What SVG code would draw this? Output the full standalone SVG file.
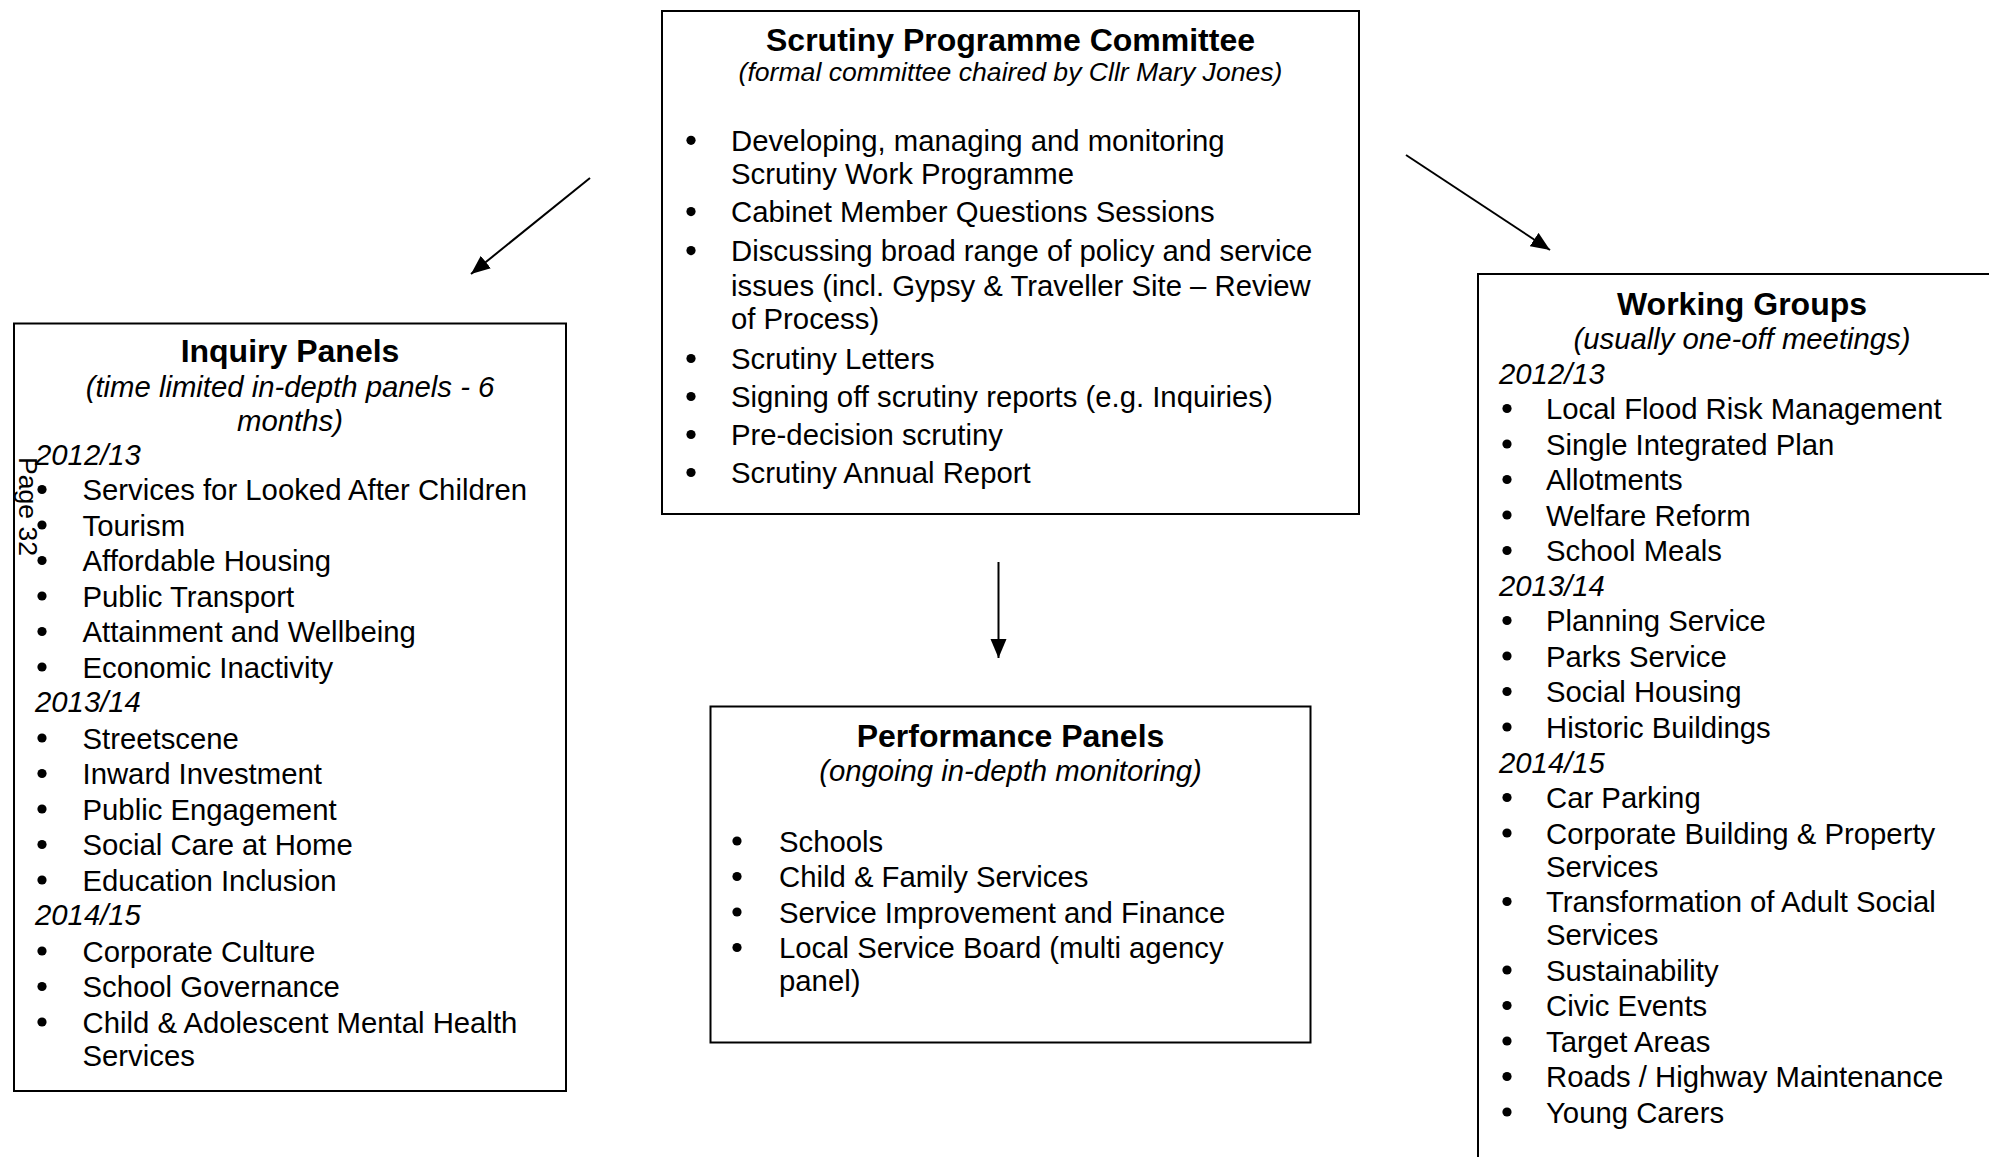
<svg xmlns="http://www.w3.org/2000/svg" width="1989" height="1157" viewBox="0 0 1989 1157">
  <style>
    .box { fill: none; stroke: #000; stroke-width: 2; }
    text { font-family: "Liberation Sans", Arial, sans-serif; fill: #000; }
    .h { font-size: 32px; font-weight: bold; text-anchor: middle; }
    .sub { font-size: 29.3px; font-style: italic; text-anchor: middle; }
    .sub-s { font-size: 26.6px; font-style: italic; text-anchor: middle; }
    .b { font-size: 29.3px; }
    .yr { font-size: 29.3px; font-style: italic; }
    .dot circle { fill: #000; }
    .pg { font-size: 26.6px; }
    .conn { stroke: #000; stroke-width: 2; fill: none; marker-end: url(#ah); }
  </style>
  <defs>
    <marker id="ah" markerUnits="userSpaceOnUse" markerWidth="21" markerHeight="17" refX="19" refY="8" orient="auto">
      <path d="M0,0 L19,8 L0,16 z" fill="#000"/>
    </marker>
  </defs>

  <rect width="1989" height="1157" fill="#fff"/>

  <!-- connectors -->
  <g id="connectors">
    <line class="conn" x1="590" y1="178" x2="471" y2="274"/>
    <line class="conn" x1="1406" y1="155" x2="1550" y2="250"/>
    <line class="conn" x1="998.5" y1="562" x2="998.5" y2="658"/>
  </g>

  <!-- Scrutiny Programme Committee -->
  <g id="node-committee">
    <rect class="box" x="662" y="11" width="697" height="503"/>
    <text class="h" x="1010.5" y="51">Scrutiny Programme Committee</text>
    <text class="sub-s" x="1010.5" y="81">(formal committee chaired by Cllr Mary Jones)</text>
    <g class="dot">
      <circle cx="691" cy="140.3" r="4.6"/>
      <circle cx="691" cy="211.6" r="4.6"/>
      <circle cx="691" cy="250.6" r="4.6"/>
      <circle cx="691" cy="358.5" r="4.6"/>
      <circle cx="691" cy="396.5" r="4.6"/>
      <circle cx="691" cy="434.5" r="4.6"/>
      <circle cx="691" cy="472.5" r="4.6"/>
    </g>
    <g class="b">
      <text x="731" y="150.8">Developing, managing and monitoring</text>
      <text x="731" y="184">Scrutiny Work Programme</text>
      <text x="731" y="222">Cabinet Member Questions Sessions</text>
      <text x="731" y="261">Discussing broad range of policy and service</text>
      <text x="731" y="295.5">issues (incl. Gypsy &amp; Traveller Site – Review</text>
      <text x="731" y="328.5">of Process)</text>
      <text x="731" y="369">Scrutiny Letters</text>
      <text x="731" y="407">Signing off scrutiny reports (e.g. Inquiries)</text>
      <text x="731" y="445">Pre-decision scrutiny</text>
      <text x="731" y="483">Scrutiny Annual Report</text>
    </g>
  </g>

  <!-- Inquiry Panels -->
  <g id="node-inquiry">
    <rect class="box" x="14" y="323.5" width="552" height="767.5"/>
    <text class="h" x="290" y="362">Inquiry Panels</text>
    <text class="sub" x="290" y="397">(time limited in-depth panels - 6</text>
    <text class="sub" x="290" y="430.5">months)</text>
    <text class="yr" x="35" y="464.5">2012/13</text>
    <text class="yr" x="35" y="712">2013/14</text>
    <text class="yr" x="35" y="925">2014/15</text>
    <g class="dot">
      <circle cx="42" cy="489.5" r="4.6"/>
      <circle cx="42" cy="525" r="4.6"/>
      <circle cx="42" cy="560.5" r="4.6"/>
      <circle cx="42" cy="596" r="4.6"/>
      <circle cx="42" cy="631.5" r="4.6"/>
      <circle cx="42" cy="667" r="4.6"/>
      <circle cx="42" cy="738" r="4.6"/>
      <circle cx="42" cy="773.5" r="4.6"/>
      <circle cx="42" cy="809" r="4.6"/>
      <circle cx="42" cy="844.5" r="4.6"/>
      <circle cx="42" cy="880" r="4.6"/>
      <circle cx="42" cy="951" r="4.6"/>
      <circle cx="42" cy="986.5" r="4.6"/>
      <circle cx="42" cy="1022" r="4.6"/>
    </g>
    <g class="b">
      <text x="82.5" y="500">Services for Looked After Children</text>
      <text x="82.5" y="535.5">Tourism</text>
      <text x="82.5" y="571">Affordable Housing</text>
      <text x="82.5" y="606.5">Public Transport</text>
      <text x="82.5" y="642">Attainment and Wellbeing</text>
      <text x="82.5" y="677.5">Economic Inactivity</text>
      <text x="82.5" y="748.5">Streetscene</text>
      <text x="82.5" y="784">Inward Investment</text>
      <text x="82.5" y="819.5">Public Engagement</text>
      <text x="82.5" y="855">Social Care at Home</text>
      <text x="82.5" y="890.5">Education Inclusion</text>
      <text x="82.5" y="961.5">Corporate Culture</text>
      <text x="82.5" y="997">School Governance</text>
      <text x="82.5" y="1032.5">Child &amp; Adolescent Mental Health</text>
      <text x="82.5" y="1065.5">Services</text>
    </g>
  </g>

  <!-- page number in the left margin -->
  <text class="pg" transform="translate(19,457) rotate(90)">Page 32</text>

  <!-- Performance Panels -->
  <g id="node-performance">
    <rect class="box" x="710.5" y="706.5" width="600" height="336"/>
    <text class="h" x="1010.5" y="747">Performance Panels</text>
    <text class="sub" x="1010.5" y="780.5">(ongoing in-depth monitoring)</text>
    <g class="dot">
      <circle cx="737" cy="841" r="4.6"/>
      <circle cx="737" cy="876.5" r="4.6"/>
      <circle cx="737" cy="912" r="4.6"/>
      <circle cx="737" cy="947.5" r="4.6"/>
    </g>
    <g class="b">
      <text x="779" y="851.5">Schools</text>
      <text x="779" y="887">Child &amp; Family Services</text>
      <text x="779" y="922.5">Service Improvement and Finance</text>
      <text x="779" y="958">Local Service Board (multi agency</text>
      <text x="779" y="991">panel)</text>
    </g>
  </g>

  <!-- Working Groups (box runs past the right and bottom edges) -->
  <g id="node-working">
    <rect class="box" x="1478" y="274" width="560" height="950"/>
    <text class="h" x="1742" y="315">Working Groups</text>
    <text class="sub" x="1742" y="349">(usually one-off meetings)</text>
    <text class="yr" x="1499" y="383.5">2012/13</text>
    <text class="yr" x="1499" y="596">2013/14</text>
    <text class="yr" x="1499" y="772.5">2014/15</text>
    <g class="dot">
      <circle cx="1507" cy="408.5" r="4.6"/>
      <circle cx="1507" cy="444" r="4.6"/>
      <circle cx="1507" cy="479.5" r="4.6"/>
      <circle cx="1507" cy="515" r="4.6"/>
      <circle cx="1507" cy="550.5" r="4.6"/>
      <circle cx="1507" cy="620.5" r="4.6"/>
      <circle cx="1507" cy="656" r="4.6"/>
      <circle cx="1507" cy="691.5" r="4.6"/>
      <circle cx="1507" cy="727" r="4.6"/>
      <circle cx="1507" cy="797.5" r="4.6"/>
      <circle cx="1507" cy="833" r="4.6"/>
      <circle cx="1507" cy="901.5" r="4.6"/>
      <circle cx="1507" cy="970" r="4.6"/>
      <circle cx="1507" cy="1005.5" r="4.6"/>
      <circle cx="1507" cy="1041" r="4.6"/>
      <circle cx="1507" cy="1076.5" r="4.6"/>
      <circle cx="1507" cy="1112" r="4.6"/>
    </g>
    <g class="b">
      <text x="1546" y="419">Local Flood Risk Management</text>
      <text x="1546" y="454.5">Single Integrated Plan</text>
      <text x="1546" y="490">Allotments</text>
      <text x="1546" y="525.5">Welfare Reform</text>
      <text x="1546" y="561">School Meals</text>
      <text x="1546" y="631">Planning Service</text>
      <text x="1546" y="666.5">Parks Service</text>
      <text x="1546" y="702">Social Housing</text>
      <text x="1546" y="737.5">Historic Buildings</text>
      <text x="1546" y="808">Car Parking</text>
      <text x="1546" y="843.5">Corporate Building &amp; Property</text>
      <text x="1546" y="876.5">Services</text>
      <text x="1546" y="912">Transformation of Adult Social</text>
      <text x="1546" y="945">Services</text>
      <text x="1546" y="980.5">Sustainability</text>
      <text x="1546" y="1016">Civic Events</text>
      <text x="1546" y="1051.5">Target Areas</text>
      <text x="1546" y="1087">Roads / Highway Maintenance</text>
      <text x="1546" y="1122.5">Young Carers</text>
    </g>
  </g>
</svg>
